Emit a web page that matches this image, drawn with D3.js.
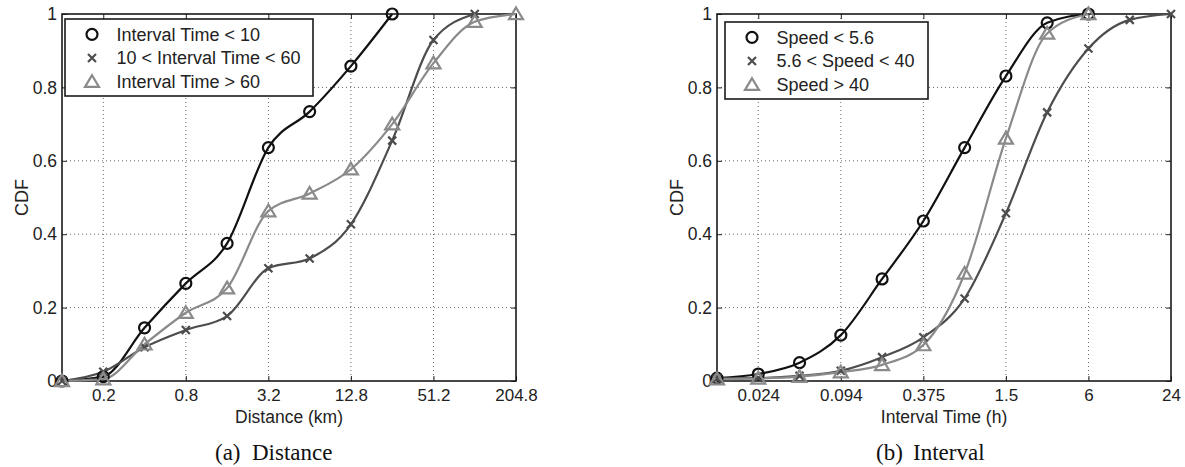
<!DOCTYPE html>
<html>
<head>
<meta charset="utf-8">
<script src="https://cdn.jsdelivr.net/npm/d3@7"></script>
<style>
  html, body { margin: 0; padding: 0; background: #fff; }
  svg { display: block; }
  text { font-family: "Liberation Sans", Arial, sans-serif; fill: #222; }
  .cap { font-family: "Liberation Serif", "Times New Roman", serif; fill: #111; }
</style>
</head>
<body>
<svg id="chart" width="1185" height="467"></svg>
<script>
// ---------- Data ----------
const distX = [0.1, 0.2, 0.4, 0.8, 1.6, 3.2, 6.4, 12.8, 25.6, 51.2, 102.4, 204.8];
const distTicks = [0.2, 0.8, 3.2, 12.8, 51.2, 204.8];
const distTickLabels = ["0.2", "0.8", "3.2", "12.8", "51.2", "204.8"];
const distLt10 = [0, 0.012, 0.145, 0.266, 0.375, 0.636, 0.734, 0.858, 1.0];
const dist10to60 = [0, 0.025, 0.092, 0.139, 0.177, 0.307, 0.334, 0.427, 0.655, 0.929, 1.0];
const distGt60 = [0, 0.005, 0.10, 0.186, 0.253, 0.463, 0.511, 0.577, 0.70, 0.866, 0.979, 1.0];
const distNames = ["Interval Time < 10", "10 < Interval Time < 60", "Interval Time > 60"];

const intX = [0.01171875, 0.0234375, 0.046875, 0.09375, 0.1875, 0.375, 0.75, 1.5, 3, 6, 12, 24];
const intTicks = [0.0234375, 0.09375, 0.375, 1.5, 6, 24];
const intTickLabels = ["0.024", "0.094", "0.375", "1.5", "6", "24"];
const speedLt = [0.008, 0.019, 0.05, 0.125, 0.278, 0.436, 0.636, 0.831, 0.976, 1.0];
const speedMid = [0.007, 0.008, 0.014, 0.028, 0.065, 0.119, 0.225, 0.457, 0.732, 0.906, 0.984, 1.0];
const speedHi = [0.005, 0.007, 0.012, 0.024, 0.044, 0.098, 0.293, 0.661, 0.947, 1.0];
const speedNames = ["Speed < 5.6", "5.6 < Speed < 40", "Speed > 40"];

const yTicks = [0, 0.2, 0.4, 0.6, 0.8, 1];
const yTickLabels = ["0", "0.2", "0.4", "0.6", "0.8", "1"];

// ---------- Styles ----------
const seriesStyle = [
  { color: "#111111", marker: "circle" },
  { color: "#4d4d4d", marker: "x" },
  { color: "#8a8a8a", marker: "tri" }
];

const svg = d3.select("#chart");

function drawMarker(g, type, cx, cy, color) {
  if (type === "circle") {
    g.append("circle").attr("cx", cx).attr("cy", cy).attr("r", 5.5)
      .attr("fill", "none").attr("stroke", color).attr("stroke-width", 2.2);
  } else if (type === "x") {
    const s = 4;
    g.append("path")
      .attr("d", `M${cx - s},${cy - s}L${cx + s},${cy + s}M${cx - s},${cy + s}L${cx + s},${cy - s}`)
      .attr("stroke", color).attr("stroke-width", 2.2).attr("fill", "none");
  } else {
    const w = 7, h = 6.5;
    g.append("path")
      .attr("d", `M${cx},${cy - h}L${cx + w},${cy + h * 0.8}L${cx - w},${cy + h * 0.8}Z`)
      .attr("stroke", color).attr("stroke-width", 2.2).attr("fill", "none");
  }
}

function panel(cfg) {
  const { x0, x1, y0, y1 } = cfg;
  const x = d3.scaleLog().domain(cfg.domain).range([x0, x1]);
  const y = d3.scaleLinear().domain([0, 1]).range([y1, y0]);
  const g = svg.append("g");

  // grid
  const grid = g.append("g").attr("stroke", "#666").attr("stroke-width", 1)
    .attr("stroke-dasharray", "1,3");
  cfg.ticks.filter(t => Math.abs(x(t) - x1) > 1).forEach(t => {
    grid.append("line").attr("x1", x(t)).attr("x2", x(t)).attr("y1", y0).attr("y2", y1);
  });
  yTicks.filter(t => t > 0 && t < 1).forEach(t => {
    grid.append("line").attr("x1", x0).attr("x2", x1).attr("y1", y(t)).attr("y2", y(t));
  });

  // axes via d3 axis (inside ticks)
  const fmtX = (d) => cfg.tickLabels[cfg.ticks.findIndex(t => Math.abs(t - d) / d < 1e-6)];
  const xb = g.append("g").attr("transform", `translate(0,${y1})`)
    .call(d3.axisBottom(x).tickValues(cfg.ticks).tickFormat(fmtX).tickSizeInner(-5).tickSizeOuter(0).tickPadding(8));
  const xt = g.append("g").attr("transform", `translate(0,${y0})`)
    .call(d3.axisTop(x).tickValues(cfg.ticks).tickFormat("").tickSizeInner(-5).tickSizeOuter(0));
  const yl = g.append("g").attr("transform", `translate(${x0},0)`)
    .call(d3.axisLeft(y).tickValues(yTicks).tickFormat((d, i) => yTickLabels[i]).tickSizeInner(-5).tickSizeOuter(0).tickPadding(5));
  const yr = g.append("g").attr("transform", `translate(${x1},0)`)
    .call(d3.axisRight(y).tickValues(yTicks).tickFormat("").tickSizeInner(-5).tickSizeOuter(0));
  [xb, xt, yl, yr].forEach(a => {
    a.select(".domain").remove();
    a.selectAll("line").attr("stroke", "#222").attr("stroke-width", 1);
    a.selectAll("text").attr("font-size", 17.5).attr("fill", "#222")
      .attr("font-family", "'Liberation Sans', Arial, sans-serif");
  });
  xb.selectAll("text").attr("font-size", 17).attr("dy", "0.71em");
  // box
  g.append("rect").attr("x", x0).attr("y", y0).attr("width", x1 - x0).attr("height", y1 - y0)
    .attr("fill", "none").attr("stroke", "#1a1a1a").attr("stroke-width", 1.6);

  // series
  const line = d3.line().curve(d3.curveMonotoneX);
  cfg.series.forEach((vals, i) => {
    const st = seriesStyle[i];
    const pts = vals.map((v, k) => [x(cfg.xs[k]), y(v)]);
    g.append("path").attr("d", line(pts)).attr("fill", "none")
      .attr("stroke", st.color).attr("stroke-width", 2.2);
  });
  cfg.series.forEach((vals, i) => {
    const st = seriesStyle[i];
    const mg = g.append("g");
    vals.forEach((v, k) => drawMarker(mg, st.marker, x(cfg.xs[k]), y(v), st.color));
  });

  // axis labels
  g.append("text").attr("x", (x0 + x1) / 2).attr("y", 423).attr("text-anchor", "middle")
    .attr("font-size", 17.5).text(cfg.xlabel);
  g.append("text").attr("transform", `translate(${x0 - 40},${(y0 + y1) / 2}) rotate(-90)`)
    .attr("text-anchor", "middle").attr("dy", "0.35em").attr("font-size", 18).text("CDF");

  // legend
  const L = cfg.legend;
  const lg = g.append("g");
  lg.append("rect").attr("x", L.x).attr("y", L.y).attr("width", L.w).attr("height", L.h)
    .attr("fill", "#fff").attr("stroke", "#1a1a1a").attr("stroke-width", 1.6);
  cfg.names.forEach((n, i) => {
    const ry = L.y + 15.3 + i * 23.7;
    drawMarker(lg, seriesStyle[i].marker, L.x + 27, ry, seriesStyle[i].color);
    lg.append("text").attr("x", L.x + 51.5).attr("y", ry).attr("dy", "0.35em")
      .attr("font-size", 18).text(n);
  });

  // caption
  svg.append("text").attr("class", "cap").attr("x", cfg.cap.x).attr("y", 460)
    .attr("font-size", 23).text(cfg.cap.a);
  svg.append("text").attr("class", "cap").attr("x", cfg.cap.x + 37).attr("y", 460)
    .attr("font-size", 23).text(cfg.cap.b);
}

panel({
  x0: 62, x1: 516, y0: 14, y1: 381,
  domain: [0.1, 204.8], xs: distX, ticks: distTicks, tickLabels: distTickLabels,
  series: [distLt10, dist10to60, distGt60], names: distNames,
  xlabel: "Distance (km)",
  legend: { x: 65, y: 19, w: 248, h: 77 },
  cap: { x: 215, a: "(a)", b: "Distance" }
});

panel({
  x0: 717, x1: 1171, y0: 14, y1: 381,
  domain: [0.01171875, 24], xs: intX, ticks: intTicks, tickLabels: intTickLabels,
  series: [speedLt, speedMid, speedHi], names: speedNames,
  xlabel: "Interval Time (h)",
  legend: { x: 725, y: 22, w: 203, h: 77 },
  cap: { x: 876, a: "(b)", b: "Interval" }
});
</script>
</body>
</html>
